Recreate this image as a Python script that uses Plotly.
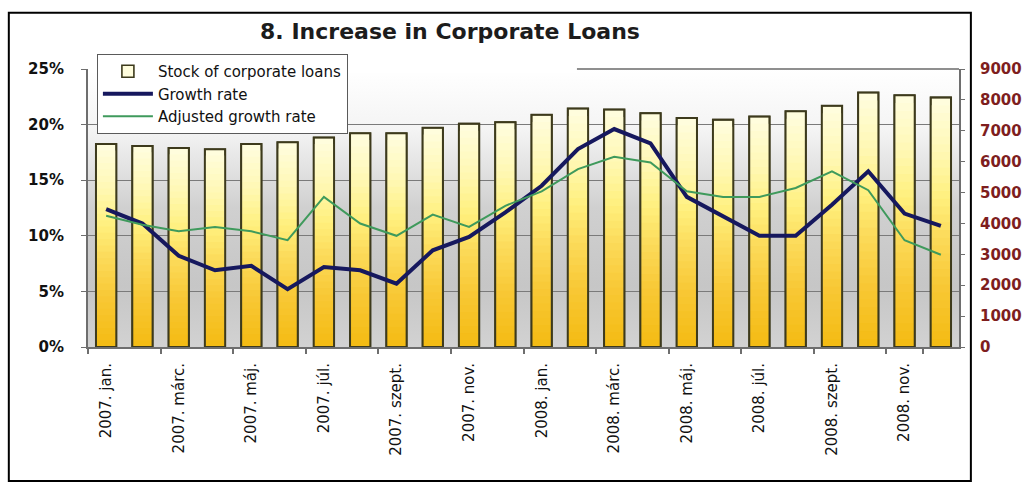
import base64
import plotly.graph_objects as go

# Monthly categories (Hungarian month abbreviations)
months = [
    "2007. jan.", "2007. febr.", "2007. márc.", "2007. ápr.", "2007. máj.", "2007. jún.",
    "2007. júl.", "2007. aug.", "2007. szept.", "2007. okt.", "2007. nov.", "2007. dec.",
    "2008. jan.", "2008. febr.", "2008. márc.", "2008. ápr.", "2008. máj.", "2008. jún.",
    "2008. júl.", "2008. aug.", "2008. szept.", "2008. okt.", "2008. nov.", "2008. dec.",
]

# Stock of corporate loans (right axis)
stock = [6570, 6510, 6440, 6400, 6570, 6630, 6780, 6920, 6920, 7100, 7230, 7280,
         7520, 7720, 7690, 7570, 7410, 7360, 7460, 7630, 7810, 8240, 8150, 8080]

# Growth rates in percent (left axis)
growth = [12.4, 11.1, 8.2, 6.9, 7.3, 5.2, 7.2, 6.9, 5.7, 8.7, 9.9, 12.1,
          14.5, 17.8, 19.6, 18.3, 13.5, 11.7, 10.0, 10.0, 12.8, 15.8, 12.0, 10.9]
adjusted = [11.8, 11.0, 10.4, 10.8, 10.4, 9.6, 13.5, 11.1, 10.0, 11.9, 10.8, 12.7,
            14.0, 16.0, 17.1, 16.6, 14.0, 13.5, 13.5, 14.3, 15.8, 14.1, 9.6, 8.3]

pct_ticks = [0, 5, 10, 15, 20, 25]
pct_labels = ["0%", "5%", "10%", "15%", "20%", "25%"]
stock_ticks = list(range(0, 10000, 1000))

# Canvas geometry (pixels)
W, H = 1034, 484
L, R, T, B = 88, 968, 69, 347


def px_x(p):
    return (p - L) / (R - L)


def px_y(p):
    return (B - p) / (B - T)


def hex2rgb(h):
    h = h.lstrip("#")
    return tuple(int(h[i:i + 2], 16) for i in (0, 2, 4))


# Vertical colour ramp of each column: bottom -> top
ramp = [(0.0, "#f4bb12"), (0.25, "#f8c836"), (0.45, "#fcdc5c"),
        (0.6, "#fff07e"), (0.78, "#fff8b4"), (1.0, "#fffde0")]


def ramp_color(f):
    for (f0, c0), (f1, c1) in zip(ramp[:-1], ramp[1:]):
        if f0 <= f <= f1:
            t = (f - f0) / (f1 - f0)
            a, b = hex2rgb(c0), hex2rgb(c1)
            return "rgb(%d,%d,%d)" % tuple(round(a[i] + (b[i] - a[i]) * t) for i in range(3))
    return ramp[-1][1]


fig = go.Figure()

GAP = 0.44
N = 32
for k in range(N):
    f = 1 - k / N
    fig.add_trace(go.Bar(
        x=months, y=[v * f for v in stock], yaxis="y",
        marker=dict(color=ramp_color(f - 0.5 / N),
                    line=dict(width=1.6 if k == 0 else 0, color="#3d3a1c")),
        name="Stock of corporate loans", showlegend=(k == 0),
        legendrank=1, hoverinfo="skip" if k else None,
    ))

# column outlines
fig.add_trace(go.Bar(
    x=months, y=stock, yaxis="y", showlegend=False, hoverinfo="skip",
    marker=dict(color="rgba(0,0,0,0)", line=dict(width=2, color="#3d3a1c")),
))

fig.add_trace(go.Scatter(
    x=months, y=growth, yaxis="y2", mode="lines", name="Growth rate",
    line=dict(color="#16185e", width=4), legendrank=2,
))
fig.add_trace(go.Scatter(
    x=months, y=adjusted, yaxis="y2", mode="lines", name="Adjusted growth rate",
    line=dict(color="#3f9a5c", width=2), legendrank=3,
))

# grey backdrop of the plotting area
svg = ('<svg xmlns="http://www.w3.org/2000/svg" width="10" height="100" viewBox="0 0 10 100" '
       'preserveAspectRatio="none"><defs><linearGradient id="g" x1="0" y1="0" x2="0" y2="1">'
       '<stop offset="0" stop-color="#ffffff"/><stop offset="0.22" stop-color="#f4f4f4"/>'
       '<stop offset="0.5" stop-color="#d0d0d0"/><stop offset="0.78" stop-color="#c6c6c6"/>'
       '<stop offset="1" stop-color="#d2d2d2"/></linearGradient></defs>'
       '<rect width="10" height="100" fill="url(#g)"/></svg>')
bg_src = "data:image/svg+xml;base64," + base64.b64encode(svg.encode()).decode()

axis_grey = "#6e6e6e"

fig.update_layout(
    width=W, height=H,
    margin=dict(l=L, r=W - R, t=T, b=H - B, pad=0),
    paper_bgcolor="white", plot_bgcolor="rgba(0,0,0,0)",
    barmode="overlay", bargap=GAP,
    font=dict(family="DejaVu Sans", color="black"),
    title=dict(text="<b>8. Increase in Corporate Loans</b>", x=450 / W, xref="container",
               xanchor="center", y=1 - 31 / H, yref="container", yanchor="middle",
               font=dict(family="DejaVu Sans", size=22, color="#1c1c1c")),
    xaxis=dict(
        type="category", tickmode="array", tickvals=months[::2], ticktext=months[::2],
        tickson="boundaries", ticks="outside", ticklen=5, tickwidth=1.5, tickcolor=axis_grey,
        showline=True, linecolor=axis_grey, linewidth=2, showgrid=False,
        tickangle=-90, tickfont=dict(family="DejaVu Sans", size=15, color="#111111"),
        ticklabelstandoff=8,
    ),
    yaxis=dict(
        side="right", range=[0, 9000], tickvals=stock_ticks, showgrid=False, zeroline=False,
        showline=True, linecolor=axis_grey, linewidth=2,
        ticks="outside", ticklen=4, tickcolor=axis_grey,
        tickfont=dict(family="DejaVu Sans", size=15, color="#7e1e1e", weight="bold"),
        ticklabelstandoff=12,
    ),
    yaxis2=dict(
        overlaying="y", side="left", range=[0, 25], tickmode="array",
        tickvals=pct_ticks, ticktext=pct_labels,
        showgrid=True, gridcolor="#7a7a7a", gridwidth=1, zeroline=False,
        showline=True, linecolor=axis_grey, linewidth=2,
        ticks="outside", ticklen=5, tickcolor=axis_grey,
        tickfont=dict(family="DejaVu Sans", size=15, color="#111111", weight="bold"),
        ticklabelstandoff=14,
    ),
    legend=dict(
        x=px_x(97), y=px_y(54), xanchor="left", yanchor="top",
        bgcolor="white", bordercolor="#5a5a5a", borderwidth=1,
        font=dict(family="DejaVu Sans", size=15, color="#111111"),
        itemwidth=50, tracegroupgap=0,
    ),
    images=[dict(source=bg_src, xref="paper", yref="paper", x=0, y=1, sizex=1, sizey=1,
                 xanchor="left", yanchor="top", sizing="stretch", layer="below")],
    shapes=[
        # hide the top grid line to the left, keep the frame line on the right
        dict(type="rect", xref="paper", yref="paper", x0=0.003, x1=px_x(582),
             y0=0.985, y1=1.015, fillcolor="white", line=dict(width=0), layer="between"),
        dict(type="line", xref="paper", yref="paper", x0=px_x(582), x1=1, y0=1, y1=1,
             line=dict(color="#6a6a6a", width=1.5)),
        # outer frame
        dict(type="rect", xref="paper", yref="paper", x0=px_x(8), x1=px_x(980),
             y0=px_y(481), y1=px_y(12.7), line=dict(color="black", width=2),
             fillcolor="rgba(0,0,0,0)"),
    ],
)

fig.write_html("out.html")
